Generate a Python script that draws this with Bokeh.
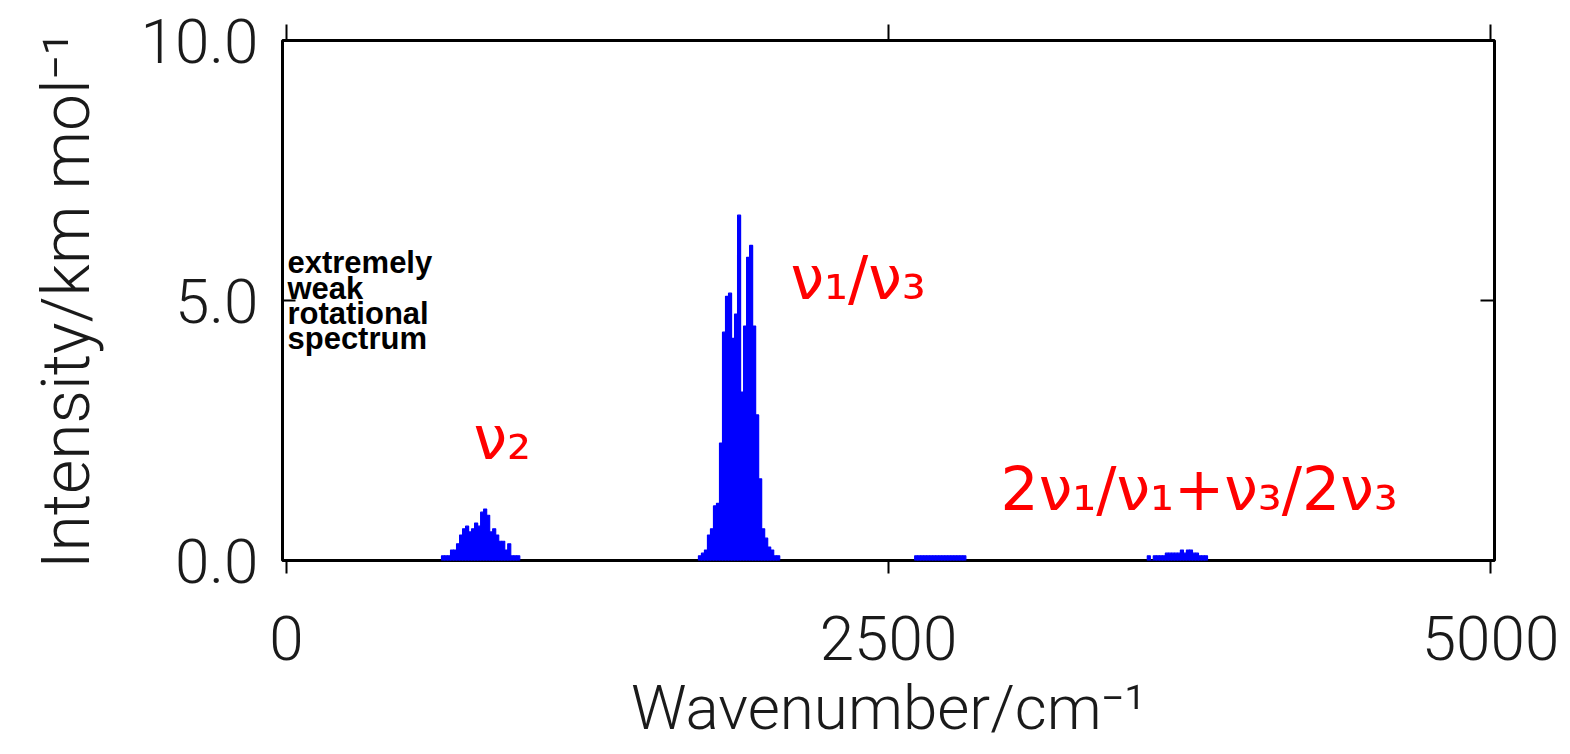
from bokeh.plotting import figure
from bokeh.models import Range1d, LinearAxis, FixedTicker, Label, ColumnDataSource
from bokeh.embed import file_html
from bokeh.resources import INLINE

# ---- data ----
bin_width = 12.5  # cm^-1

nu2_start = 650.0
nu2_intensity = [0.09, 0.09, 0.09, 0.20, 0.20, 0.32, 0.49, 0.61, 0.66, 0.55, 0.61, 0.72, 0.66,
                 0.93, 0.99, 0.87, 0.55, 0.61, 0.49, 0.37, 0.37, 0.20, 0.32, 0.09, 0.09, 0.09]

nu13_start = 1717.0
nu13_intensity = [0.09, 0.14, 0.20, 0.49, 0.61, 1.05, 1.10, 2.26, 4.39, 5.08, 5.14, 4.27, 4.74,
                  6.64, 3.24, 4.51, 5.83, 6.06, 4.51, 2.80, 1.57, 0.61, 0.43, 0.26, 0.20, 0.09, 0.09]

weak_start = 2615.0
weak_intensity = [0.09, 0.09, 0.09, 0.09, 0.09, 0.09, 0.09, 0.09, 0.09,
                  0.09, 0.09, 0.09, 0.09, 0.09, 0.09, 0.09, 0.09]

comb_start = 3581.0
comb_intensity = [0.09, 0.0, 0.09, 0.09, 0.09, 0.09, 0.14, 0.14, 0.14, 0.14, 0.14,
                  0.20, 0.14, 0.20, 0.20, 0.14, 0.14, 0.09, 0.09, 0.09]

x_ticks = [0, 2500, 5000]
x_tick_labels = ["0", "2500", "5000"]
y_ticks = [0, 5, 10]
y_tick_labels = ["0.0", "5.0", "10.0"]

x_title = "Wavenumber/cm\u207b\u00b9"
y_title = "Intensity/km mol\u207b\u00b9"
note_lines = ["extremely", "weak", "rotational", "spectrum"]
band_labels = ["\u03bd\u2082", "\u03bd\u2081/\u03bd\u2083", "2\u03bd\u2081/\u03bd\u2081+\u03bd\u2083/2\u03bd\u2083"]

# ---- build bar table ----
xs, ys = [], []
for start, vals in [(nu2_start, nu2_intensity), (nu13_start, nu13_intensity),
                    (weak_start, weak_intensity), (comb_start, comb_intensity)]:
    for i, v in enumerate(vals):
        xs.append(start + i * bin_width)
        ys.append(v)
src = ColumnDataSource(dict(x=xs, top=ys))

TICK_FONT = "Roboto Light"
TXT = "#1a1a1a"

p = figure(width=1570, height=754,
           x_range=Range1d(-16.6, 5016.6), y_range=Range1d(0, 10),
           output_backend="svg", toolbar_location=None,
           x_axis_location=None, y_axis_location=None,
           min_border_left=282, min_border_right=76,
           min_border_top=40, min_border_bottom=194)
p.xgrid.visible = False
p.ygrid.visible = False
p.outline_line_color = "black"
p.outline_line_width = 3
p.background_fill_color = "white"
p.border_fill_color = "white"

p.vbar(x="x", top="top", bottom=0, width=bin_width, source=src,
       fill_color="#0000ff", line_color="#0000ff", line_width=1.2)

# bottom axis
xb = LinearAxis(ticker=FixedTicker(ticks=x_ticks),
                major_label_overrides={t: l for t, l in zip(x_ticks, x_tick_labels)})
xb.axis_line_color = None
xb.major_tick_in = 0
xb.major_tick_out = 13
xb.major_tick_line_width = 2
xb.minor_tick_line_color = None
xb.major_label_text_font = TICK_FONT
xb.major_label_text_font_size = "62px"
xb.major_label_text_color = TXT
xb.major_label_standoff = 42
xb.axis_label = x_title
xb.axis_label_text_font = TICK_FONT
xb.axis_label_text_font_size = "62px"
xb.axis_label_text_font_style = "normal"
xb.axis_label_text_color = TXT
xb.axis_label_standoff = 8
p.add_layout(xb, "below")

# top axis (ticks only)
xt = LinearAxis(ticker=FixedTicker(ticks=x_ticks),
                major_label_overrides={t: "" for t in x_ticks})
xt.axis_line_color = None
xt.major_tick_in = 0
xt.major_tick_out = 16
xt.major_tick_line_width = 2
xt.minor_tick_line_color = None
xt.major_label_text_font_size = "1px"
p.add_layout(xt, "above")

# left axis
yl = LinearAxis(ticker=FixedTicker(ticks=y_ticks),
                major_label_overrides={t: l for t, l in zip(y_ticks, y_tick_labels)})
yl.axis_line_color = None
yl.major_tick_in = 13
yl.major_tick_out = 0
yl.major_tick_line_width = 2
yl.minor_tick_line_color = None
yl.major_label_text_font = TICK_FONT
yl.major_label_text_font_size = "62px"
yl.major_label_text_color = TXT
yl.major_label_standoff = 24
yl.axis_label = y_title
yl.axis_label_text_font = TICK_FONT
yl.axis_label_text_font_size = "66px"
yl.axis_label_text_font_style = "normal"
yl.axis_label_text_color = TXT
yl.axis_label_standoff = 33
p.add_layout(yl, "left")

# right axis (tick only)
yr = LinearAxis(ticker=FixedTicker(ticks=y_ticks),
                major_label_overrides={t: "" for t in y_ticks})
yr.axis_line_color = None
yr.major_tick_in = 14
yr.major_tick_out = 0
yr.major_tick_line_width = 2
yr.minor_tick_line_color = None
yr.major_label_text_font_size = "1px"
p.add_layout(yr, "right")

# notes
for i, line in enumerate(note_lines):
    p.add_layout(Label(x=4, y=5.73 - i * 0.49, text=line, text_baseline="middle",
                       text_font="Liberation Sans", text_font_style="bold",
                       text_font_size="31px", text_color="black"))

band_pos = [(777, 2.36), (2093, 5.43), (2965, 1.38)]
for (bx, by), t in zip(band_pos, band_labels):
    p.add_layout(Label(x=bx, y=by, text=t, text_baseline="alphabetic",
                       text_font="DejaVu Sans", text_font_size="60px",
                       text_color="#ff0000"))

open("out.html", "w").write(file_html(p, INLINE))
